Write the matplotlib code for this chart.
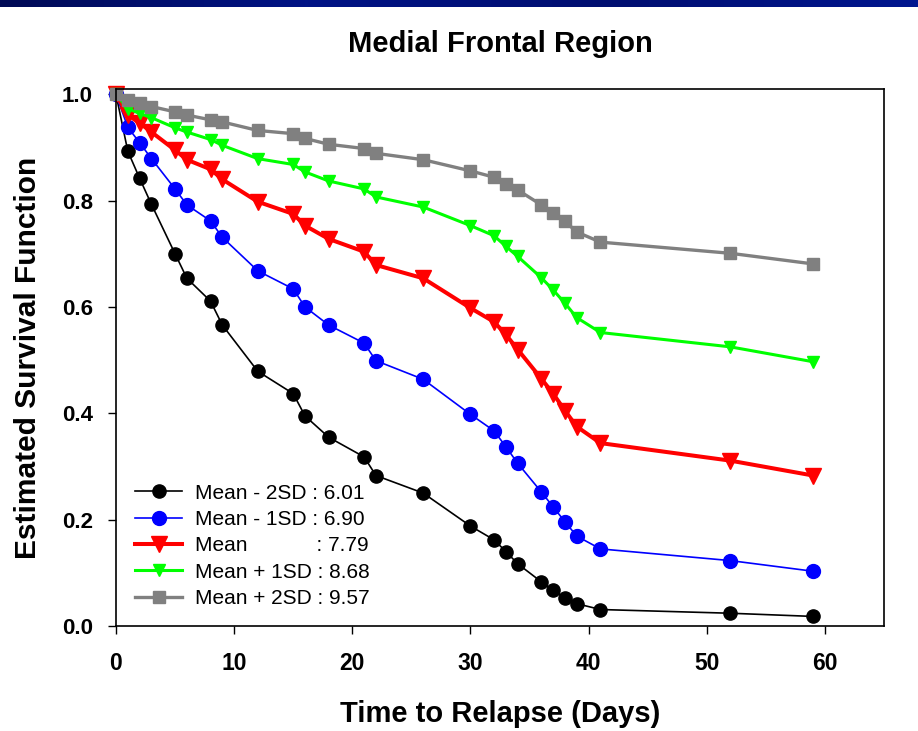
import numpy as np
import matplotlib
matplotlib.use('Agg')
import matplotlib.pyplot as plt
from matplotlib.colors import LinearSegmentedColormap

plt.rcParams['font.family'] = ['Liberation Sans', 'DejaVu Sans']

# event times (days)
days = [0, 1, 2, 3, 5, 6, 8, 9, 12, 15, 16, 18, 21, 22, 26,
        30, 32, 33, 34, 36, 37, 38, 39, 41, 52, 59]

# estimated survival, one list per covariate level
minus_2sd = [1.000, 0.893, 0.842, 0.793, 0.700, 0.654, 0.611, 0.566, 0.479, 0.437, 0.395, 0.355, 0.318,
             0.283, 0.250, 0.188, 0.162, 0.140, 0.117, 0.083, 0.067, 0.053, 0.042, 0.031, 0.024, 0.018]
minus_1sd = [1.000, 0.938, 0.909, 0.879, 0.822, 0.792, 0.762, 0.731, 0.668, 0.634, 0.600, 0.566, 0.532,
             0.499, 0.464, 0.398, 0.367, 0.337, 0.306, 0.252, 0.224, 0.196, 0.169, 0.145, 0.123, 0.103]
mean_cov = [1.000, 0.961, 0.946, 0.929, 0.895, 0.877, 0.859, 0.840, 0.798, 0.775, 0.753, 0.728, 0.704,
            0.679, 0.654, 0.598, 0.572, 0.548, 0.520, 0.465, 0.437, 0.405, 0.375, 0.344, 0.311, 0.283]
plus_1sd = [1.000, 0.973, 0.964, 0.956, 0.937, 0.929, 0.915, 0.904, 0.879, 0.868, 0.854, 0.837, 0.822,
            0.807, 0.788, 0.753, 0.734, 0.714, 0.695, 0.655, 0.632, 0.607, 0.580, 0.552, 0.525, 0.497]
plus_2sd = [1.000, 0.989, 0.983, 0.977, 0.967, 0.961, 0.952, 0.948, 0.932, 0.926, 0.917, 0.906, 0.898,
            0.889, 0.877, 0.856, 0.844, 0.832, 0.820, 0.792, 0.777, 0.761, 0.741, 0.722, 0.701, 0.681]

labels = ['Mean - 2SD : 6.01', 'Mean - 1SD : 6.90', 'Mean            : 7.79',
          'Mean + 1SD : 8.68', 'Mean + 2SD : 9.57']

fig = plt.figure(figsize=(9.18, 7.31), dpi=100)

# dark blue band at the top of the slide
band = fig.add_axes([0, 1 - 7 / 731, 1, 7 / 731])
grad = np.linspace(0, 1, 256).reshape(1, -1)
cm_band = LinearSegmentedColormap.from_list('band', ['#000a55', '#001385', '#000e70', '#00168f'])
band.imshow(grad, aspect='auto', cmap=cm_band)
band.axis('off')

ax = fig.add_axes([116 / 918, 105 / 731, 768 / 918, 537 / 731])

ax.plot(days, minus_2sd, color='black', lw=1.2, marker='o', ms=9.5, clip_on=False, label=labels[0])
ax.plot(days, minus_1sd, color='#0000ff', lw=1.2, marker='o', ms=10, clip_on=False, label=labels[1])
ax.plot(days, mean_cov, color='#ff0000', lw=2.9, marker='v', ms=11.5, clip_on=False, label=labels[2])
ax.plot(days, plus_1sd, color='#00ff00', lw=2.2, marker='v', ms=8.6, clip_on=False, label=labels[3])
ax.plot(days, plus_2sd, color='#808080', lw=2.4, marker='s', ms=8, clip_on=False, label=labels[4])

ax.set_xlim(0, 65)
ax.set_ylim(0, 1.01)
ax.set_xticks([0, 10, 20, 30, 40, 50, 60])
ax.set_yticks([0.0, 0.2, 0.4, 0.6, 0.8, 1.0])
ax.set_yticklabels(['0.0', '0.2', '0.4', '0.6', '0.8', '1.0'])
ax.tick_params(direction='out', length=5.8, width=1.0, top=False, right=False)
ax.tick_params(axis='x', labelsize=16.5, pad=13)
ax.tick_params(axis='y', labelsize=16, pad=11)
for t in ax.get_xticklabels() + ax.get_yticklabels():
    t.set_fontweight('bold')
for s in ax.spines.values():
    s.set_linewidth(1.2)

ax.set_xlabel('Time to Relapse (Days)', fontsize=21, fontweight='bold', labelpad=18)
ax.set_ylabel('Estimated Survival Function', fontsize=21.5, fontweight='bold', labelpad=14)
ax.set_title('Medial Frontal Region', fontsize=21, fontweight='bold', pad=27)

ax.legend(loc='upper left', bbox_to_anchor=(0.025, 0.265), frameon=False, fontsize=15,
          handlelength=2.25, handletextpad=0.6, labelspacing=0.35, borderpad=0, borderaxespad=0)

plt.savefig('out.png', dpi=100)
